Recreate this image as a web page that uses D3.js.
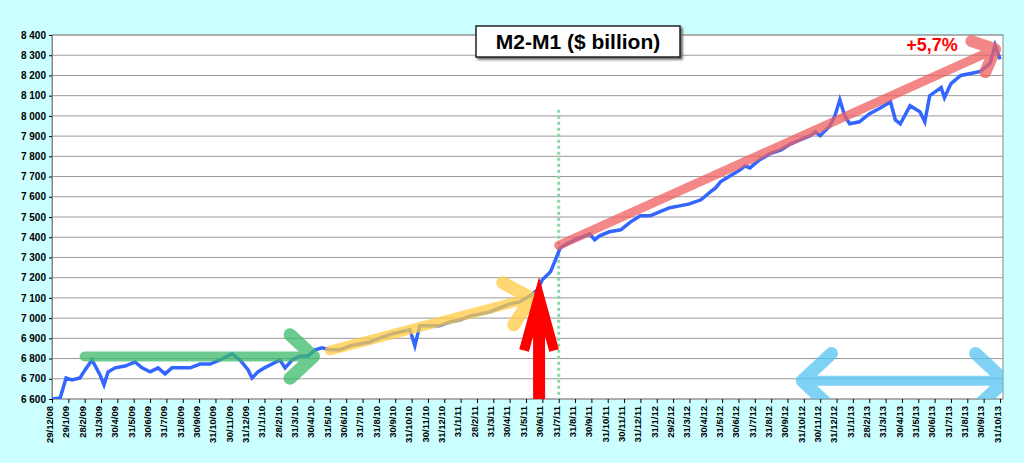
<!DOCTYPE html>
<html><head><meta charset="utf-8">
<script src="https://cdn.jsdelivr.net/npm/d3@7"></script>
<style>body{margin:0;background:#ccffff}text{font-family:Arial,"Liberation Sans",sans-serif}</style>
</head><body>
<svg id="chart" width="1024" height="463"></svg>
<script>
var tickLabels = ["29/12/08","29/1/09","28/2/09","31/3/09","30/4/09","31/5/09","30/6/09","31/7/09","31/8/09","30/9/09","31/10/09","30/11/09","31/12/09","31/1/10","28/2/10","31/3/10","30/4/10","31/5/10","30/6/10","31/7/10","31/8/10","30/9/10","31/10/10","30/11/10","31/12/10","31/1/11","28/2/11","31/3/11","30/4/11","31/5/11","30/6/11","31/7/11","31/8/11","30/9/11","31/10/11","30/11/11","31/12/11","31/1/12","29/2/12","31/3/12","30/4/12","31/5/12","30/6/12","31/7/12","31/8/12","30/9/12","31/10/12","30/11/12","31/12/12","31/1/13","28/2/13","31/3/13","30/4/13","31/5/13","30/6/13","31/7/13","31/8/13","30/9/13","31/10/13"];
// position in months since 29/12/08
var months = [0,0.5,0.86,1.22,1.71,2.02,2.45,2.94,3.18,3.43,3.86,4.47,5.08,5.51,6.0,6.49,6.92,7.34,7.83,8.45,9.06,9.67,10.28,11.02,11.5,12.0,12.24,12.6,13.0,13.46,13.95,14.26,14.69,15.18,15.67,16.1,16.52,17.0,17.6,18.24,18.85,19.46,20.07,20.8,21.3,21.9,22.2,22.5,23.1,23.7,24.4,25.0,25.6,26.2,26.8,27.4,28.0,28.6,29.25,29.7,30.0,30.5,30.8,31.1,31.5,32.0,32.6,32.9,33.2,33.5,34.1,34.8,35.4,36.0,36.6,37.2,37.8,38.4,39.0,39.7,40.0,40.3,40.6,40.9,41.5,42.1,42.4,42.7,43.3,43.9,44.6,45.2,45.8,46.4,46.7,47.0,47.6,47.9,48.2,48.5,48.8,49.4,50.0,50.7,51.3,51.6,51.9,52.5,53.1,53.4,53.7,54.4,54.6,55.0,55.6,56.2,56.8,57.4,57.7,58.0];
var values = [6600,6605,6704,6694,6704,6744,6793,6719,6670,6734,6754,6763,6783,6754,6734,6754,6724,6754,6754,6754,6773,6773,6793,6823,6793,6744,6704,6734,6754,6773,6793,6754,6793,6813,6813,6843,6853,6843,6843,6863,6873,6882,6902,6922,6932,6942,6863,6962,6962,6962,6982,6991,7011,7021,7031,7051,7070,7080,7110,7140,7190,7229,7288,7348,7367,7387,7407,7417,7387,7407,7427,7437,7476,7506,7506,7526,7546,7555,7565,7585,7605,7625,7644,7674,7704,7733,7753,7743,7783,7812,7832,7862,7882,7902,7921,7902,7951,8000,8080,8000,7961,7971,8010,8040,8070,7980,7961,8050,8020,7971,8100,8140,8090,8160,8200,8210,8220,8260,8350,8280];
var yTicks = d3.range(6600, 8401, 100);

var svg = d3.select("#chart");
var L = 52, R = 1003, T = 35, B = 399;
var x = d3.scaleLinear().domain([0, 58]).range([L, 1000]);
var y = d3.scaleLinear().domain([6600, 8400]).range([B, T]);
var fmt = function(v){ return d3.format(",")(v).replace(",", " "); };

svg.append("rect").attr("x", L).attr("y", T).attr("width", R-L).attr("height", B-T).attr("fill", "#fff").attr("stroke", "#888");
svg.append("g").selectAll("line").data(yTicks).enter().append("line")
  .attr("x1", L).attr("x2", R).attr("y1", d => y(d)).attr("y2", d => y(d)).attr("stroke", "#999").attr("stroke-width", 1);

var ya = svg.append("g").attr("transform", "translate(" + L + ",0)")
  .call(d3.axisLeft(y).tickValues(yTicks).tickFormat(fmt).tickSize(3));
ya.select(".domain").attr("stroke", "#888");
ya.selectAll("text").style("font-size", "10px").style("font-weight", "bold");

var xa = svg.append("g").attr("transform", "translate(0," + B + ")")
  .call(d3.axisBottom(x).tickValues(d3.range(0, 59)).tickFormat(i => tickLabels[i]).tickSize(4));
xa.select(".domain").remove();
xa.selectAll("text").style("font-size", "9.5px").style("font-weight", "bold")
  .attr("transform", "rotate(-90)").attr("text-anchor", "end").attr("x", -7).attr("y", -3).attr("dy", "0.35em");

var clip = svg.append("clipPath").attr("id", "c").append("rect").attr("x", L).attr("y", T).attr("width", R-L).attr("height", B-T);
var g = svg.append("g").attr("clip-path", "url(#c)");

g.append("line").attr("x1", x(31)).attr("x2", x(31)).attr("y1", y(8030)).attr("y2", B)
  .attr("stroke", "#88d8a8").attr("stroke-width", 3).attr("stroke-dasharray", "3,3");

g.append("path").datum(d3.zip(months, values))
  .attr("d", d3.line().x(d => x(d[0])).y(d => y(d[1])))
  .attr("fill", "none").attr("stroke", "#3366ff").attr("stroke-width", 3.5);

function arrow(p0, p1, color, w, head, both) {
  var a0 = [x(p0[0]), y(p0[1])], a1 = [x(p1[0]), y(p1[1])];
  var ang = Math.atan2(a1[1]-a0[1], a1[0]-a0[0]);
  var grp = g.append("g").attr("opacity", 0.75).attr("stroke", color).attr("stroke-width", w).attr("stroke-linecap", "round").attr("fill", "none");
  grp.append("line").attr("x1", a0[0]).attr("y1", a0[1]).attr("x2", a1[0]).attr("y2", a1[1]);
  function hd(p, a) {
    var h1 = [p[0]-head*Math.cos(a-0.75), p[1]-head*Math.sin(a-0.75)];
    var h2 = [p[0]-head*Math.cos(a+0.75), p[1]-head*Math.sin(a+0.75)];
    grp.append("path").attr("d", "M" + h1 + "L" + p + "L" + h2).attr("stroke-linejoin", "round").attr("stroke-width", w + 3);
  }
  hd(a1, ang);
  if (both) hd(a0, ang + Math.PI);
}
arrow([2, 6810], [16, 6810], "#3cba6a", 10, 32);
arrow([17, 6840], [29.3, 7100], "#ffcc44", 10, 32);
arrow([31, 7360], [57.7, 8330], "#f06060", 9, 25);
arrow([45.9, 6690], [58.3, 6690], "#55c4f0", 10, 40, true);

// red vertical arrow
var rx = x(29.8);
g.append("rect").attr("x", rx-6).attr("y", y(7050)).attr("width", 12).attr("height", B-y(7050)).attr("fill", "red");
g.append("path").attr("d", "M" + (rx-15) + "," + y(6840) + "L" + rx + "," + y(7110) + "L" + (rx+15) + "," + y(6840))
  .attr("stroke", "red").attr("stroke-width", 10).attr("fill", "none").attr("stroke-linejoin", "miter");

svg.append("rect").attr("x", 476).attr("y", 26).attr("width", 204).attr("height", 31).attr("fill", "#fff").attr("stroke", "#222").attr("stroke-width", 1.5)
  .style("filter", "drop-shadow(2px 2px 1px #666)");
svg.append("text").attr("x", 578).attr("y", 49).attr("text-anchor", "middle").style("font-size", "21px").style("font-weight", "bold").text("M2-M1  ($ billion)");
svg.append("text").attr("x", 932).attr("y", 51).attr("text-anchor", "middle").attr("fill", "red").style("font-size", "18px").style("font-weight", "bold").text("+5,7%");
</script>
</body></html>
